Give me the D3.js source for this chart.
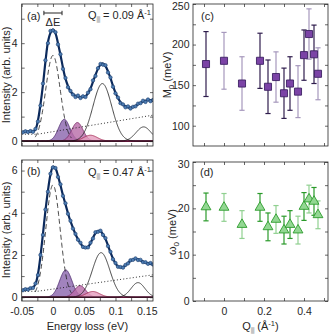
<!DOCTYPE html>
<html>
<head>
<meta charset="utf-8">
<script src="https://cdn.jsdelivr.net/npm/d3@7"></script>
<style>
  body { margin: 0; background: #fff; }
  svg { display: block; font-family: "Liberation Sans", Arial, sans-serif; }
  .tick text { font-size: 10.5px; fill: #262626; font-family: "Liberation Sans", Arial, sans-serif; }
  .tick line { stroke: #262626; stroke-width: 0.7; }
  .domain { display: none; }
  .lbl { font-size: 11px; fill: #262626; }
</style>
</head>
<body>
<div id="chart"></div>
<script>
// energy grid of the measured spectra (eV)
const energy = [-0.048, -0.044, -0.040, -0.036, -0.032, -0.028, -0.024, -0.020, -0.016, -0.012, -0.008, -0.004, 0.000,
  0.004, 0.008, 0.012, 0.016, 0.020, 0.024, 0.028, 0.032, 0.036, 0.040, 0.044, 0.048,
  0.052, 0.056, 0.060, 0.064, 0.068, 0.072, 0.076, 0.080, 0.084, 0.088, 0.092, 0.096,
  0.100, 0.104, 0.108, 0.112, 0.116, 0.120, 0.124, 0.128, 0.132, 0.136, 0.140, 0.144,
  0.148, 0.152, 0.156, 0.160];

// panel (a), Q = 0.09
const dataA = [0.36, 0.40, 0.37, 0.41, 0.38, 0.50, 0.80, 1.45, 2.35, 3.30, 4.00, 4.50, 4.52,
  4.45, 3.95, 3.55, 2.95, 2.58, 2.20, 2.05, 1.90, 1.80, 1.86, 1.76, 1.83,
  1.80, 1.98, 2.12, 2.48, 2.66, 2.98, 3.15, 3.12, 3.10, 2.80, 2.60, 2.22,
  1.95, 1.78, 1.55, 1.50, 1.38, 1.42, 1.33, 1.40, 1.42, 1.53, 1.55, 1.65,
  1.60, 1.70, 1.63, 1.68];
const fitA = [0.38, 0.38, 0.38, 0.39, 0.40, 0.48, 0.85, 1.50, 2.30, 3.25, 4.05, 4.42, 4.55,
  4.40, 4.00, 3.52, 3.00, 2.55, 2.25, 2.03, 1.92, 1.85, 1.82, 1.80, 1.80,
  1.83, 1.95, 2.15, 2.42, 2.70, 2.95, 3.12, 3.17, 3.06, 2.85, 2.57, 2.26,
  1.98, 1.76, 1.59, 1.48, 1.42, 1.38, 1.37, 1.39, 1.44, 1.50, 1.56, 1.62,
  1.65, 1.67, 1.67, 1.67];

// panel (b), Q = 0.47
const dataB = [0.33, 0.38, 0.36, 0.43, 0.44, 0.65, 1.05, 2.00, 2.95, 4.15, 5.00, 5.85, 6.15,
  6.12, 5.70, 5.35, 4.80, 4.45, 3.95, 3.62, 3.25, 3.00, 2.72, 2.58, 2.38,
  2.35, 2.36, 2.58, 2.78, 3.08, 3.10, 3.15, 2.95, 2.80, 2.42, 2.15, 1.80,
  1.62, 1.44, 1.43, 1.40, 1.53, 1.60, 1.75, 1.77, 1.84, 1.76, 1.77, 1.66,
  1.66, 1.58, 1.62, 1.55];
const fitB = [0.35, 0.36, 0.38, 0.41, 0.46, 0.62, 1.10, 1.95, 3.00, 4.10, 5.05, 5.80, 6.18,
  6.10, 5.75, 5.30, 4.83, 4.40, 3.98, 3.60, 3.28, 2.98, 2.75, 2.55, 2.40,
  2.33, 2.38, 2.55, 2.82, 3.03, 3.13, 3.12, 2.98, 2.76, 2.45, 2.12, 1.83,
  1.60, 1.46, 1.41, 1.43, 1.51, 1.62, 1.72, 1.79, 1.81, 1.79, 1.74, 1.69,
  1.64, 1.61, 1.58, 1.56];

// fitted components: [center (eV), height, gaussian width (eV)]
const elasticA = [0, 3.5, 0.0115];
const elasticB = [0, 5.32, 0.0115];
const filledPeaksA = [[0.018, 0.89, 0.009], [0.039, 0.76, 0.009], [0.060, 0.24, 0.011]];
const filledPeaksB = [[0.0205, 1.29, 0.0098], [0.0434, 0.55, 0.009], [0.0638, 0.27, 0.011]];
const linePeaksA = [[0.079, 2.35, 0.015], [0.145, 0.58, 0.012]];
const linePeaksB = [[0.077, 2.11, 0.014], [0.136, 0.69, 0.011]];
const backgroundE = [-0.05, -0.025, 0.16];
const backgroundA = [0.28, 0.28, 1.06];
const backgroundB = [0.28, 0.28, 1.06];
const resolution = 0.029;

// panels (c), (d)
const qPar = [-0.09, 0, 0.09, 0.18, 0.22, 0.26, 0.30, 0.33, 0.37, 0.40, 0.425, 0.45, 0.47];
const m0 = [176, 180, 152, 180, 148, 160, 140, 152, 142, 187, 213, 188, 164];
const m0Err = [40, 35, 33, 34, 33, 31, 31, 33, 32, 31, 31, 36, 32];
const omega0 = [20.3, 20.2, 16.5, 20.2, 16.0, 17.6, 15.3, 16.5, 15.3, 20.4, 22.0, 21.5, 18.6];
const omega0Err = [3, 3, 3, 3, 3, 3, 3, 3, 3, 3, 3, 3, 3];
const darkBar = [1, 0, 0, 1, 1, 0, 1, 1, 0, 1, 0, 1, 0];

const peakFill = ['#8a64ad', '#b86aa8', '#e39bbd'];
const peakStroke = ['#4e2a6e', '#7b2a66', '#a3264f'];

const svg = d3.select('#chart').append('svg').attr('width', 329).attr('height', 336);

const fmt = v => Math.abs(v) < 1e-9 ? '0' : String(+v.toFixed(3));
const pick = list => v => list.some(l => Math.abs(l - v) < 1e-9) ? fmt(v) : '';

const drawAxes = (x, y, xt, xl, yt, yl, yPad) => {
  const [x0, x1] = x.range();
  const [y0, y1] = y.range();
  const g = svg.append('g');
  g.append('g').attr('transform', `translate(0,${y0})`)
    .call(d3.axisBottom(x).tickValues(xt).tickSize(-3).tickPadding(6.5).tickFormat(pick(xl)));
  g.append('g').attr('transform', `translate(0,${y1})`)
    .call(d3.axisTop(x).tickValues(xt).tickSize(-3).tickFormat(() => ''));
  const left = g.append('g').attr('transform', `translate(${x0},0)`)
    .call(d3.axisLeft(y).tickValues(yt).tickSize(-3).tickPadding(yPad).tickFormat(pick(yl)));
  g.append('g').attr('transform', `translate(${x1},0)`)
    .call(d3.axisRight(y).tickValues(yt).tickSize(-3).tickFormat(() => ''));
  g.append('rect').attr('x', x0).attr('y', y1).attr('width', x1 - x0).attr('height', y0 - y1)
    .attr('fill', 'none').attr('stroke', '#262626').attr('stroke-width', 0.8);
  // keep a label sitting on the top edge inside the picture
  left.selectAll('.tick text').filter(function () { return y(d3.select(this.parentNode).datum()) < y1 + 3; })
    .attr('dy', '0.5em');
};

const gauss = ([c, h, w]) => e => h * Math.exp(-((e - c) ** 2) / (2 * w * w));
const fine = d3.range(-0.05, 0.1602, 0.0005);

const eTicks = d3.range(-0.05, 0.1501, 0.025);
const eLabels = [-0.05, 0, 0.05, 0.1, 0.15];

const drawSpectrum = (top, bottom, yMax, yMin, data, fit, elastic, filled, lines, bg, showX) => {
  const x = d3.scaleLinear().domain([-0.05, 0.16]).range([21.7, 153]);
  const y = d3.scaleLinear().domain([yMin, yMax]).range([bottom, top]);
  const clipId = 'clip' + top;
  svg.append('clipPath').attr('id', clipId).append('rect')
    .attr('x', 21.7).attr('y', top).attr('width', 153 - 21.7).attr('height', bottom - top);
  const g = svg.append('g').attr('clip-path', `url(#${clipId})`);

  filled.forEach((p, i) => {
    const f = gauss(p);
    g.append('path').datum(fine)
      .attr('d', d3.area().x(e => x(e)).y0(y(0)).y1(e => y(f(e))))
      .attr('fill', peakFill[i]).attr('fill-opacity', 0.8);
    g.append('path').datum(fine)
      .attr('d', d3.line().x(e => x(e)).y(e => y(f(e))))
      .attr('fill', 'none').attr('stroke', peakStroke[i]).attr('stroke-width', 0.8);
  });
  g.append('line').attr('x1', x(-0.05)).attr('x2', x(0.16)).attr('y1', y(0)).attr('y2', y(0))
    .attr('stroke', '#5e1436').attr('stroke-width', 1.6);

  lines.forEach(p => {
    const f = gauss(p);
    g.append('path').datum(fine)
      .attr('d', d3.line().x(e => x(e)).y(e => y(f(e))))
      .attr('fill', 'none').attr('stroke', '#1a1a1a').attr('stroke-width', 0.8);
  });

  g.append('path').datum(backgroundE.map((e, i) => [e, bg[i]]))
    .attr('d', d3.line().x(d => x(d[0])).y(d => y(d[1])))
    .attr('fill', 'none').attr('stroke', '#1a1a1a').attr('stroke-width', 0.9)
    .attr('stroke-dasharray', '1,2.2');

  const fe = gauss(elastic);
  g.append('path').datum(fine.filter(e => e > -0.029 && e < 0.03))
    .attr('d', d3.line().x(e => x(e)).y(e => y(fe(e))))
    .attr('fill', 'none').attr('stroke', '#1a1a1a').attr('stroke-width', 0.8)
    .attr('stroke-dasharray', '5,3');

  g.append('path').datum(energy.map((e, i) => [e, fit[i]]))
    .attr('d', d3.line().x(d => x(d[0])).y(d => y(d[1])).curve(d3.curveCatmullRom))
    .attr('fill', 'none').attr('stroke', '#0c2a5c').attr('stroke-width', 2.2);

  g.selectAll('.pt').data(energy.map((e, i) => [e, data[i]])).enter().append('circle')
    .attr('cx', d => x(d[0])).attr('cy', d => y(d[1])).attr('r', 1.7)
    .attr('fill', '#4d7db3').attr('stroke', '#1c3c6c').attr('stroke-width', 0.6);

  drawAxes(x, y, eTicks, showX ? eLabels : [], d3.range(0, Math.floor(yMax) + 1, 1), d3.range(0, yMax, 2), 4);
  return {x, y};
};

const a = drawSpectrum(4, 146, 5.6, -0.2, dataA, fitA, elasticA, filledPeaksA, linePeaksA, backgroundA, false);
const b = drawSpectrum(160, 301, 6.5, -0.18, dataB, fitB, elasticB, filledPeaksB, linePeaksB, backgroundB, true);

// resolution bar
const barY = 13;
const rx0 = a.x(-resolution / 2), rx1 = a.x(resolution / 2);
svg.append('line').attr('x1', rx0).attr('x2', rx1).attr('y1', barY).attr('y2', barY).attr('stroke', '#262626').attr('stroke-width', 1);
[rx0, rx1].forEach(v => svg.append('line').attr('x1', v).attr('x2', v).attr('y1', barY - 2.2).attr('y2', barY + 2.2).attr('stroke', '#262626').attr('stroke-width', 1));
svg.append('text').attr('class', 'lbl').attr('x', (rx0 + rx1) / 2).attr('y', 25.5).attr('text-anchor', 'middle').text('ΔE');

const qText = (yPos, val) => {
  const t = svg.append('text').attr('class', 'lbl').attr('x', 151).attr('y', yPos).attr('text-anchor', 'end');
  t.append('tspan').text('Q');
  t.append('tspan').attr('dy', 3).attr('font-size', 8).attr('fill', '#c4c4c4').attr('stroke', '#c4c4c4').attr('stroke-width', 1.4).text('‖');
  t.append('tspan').attr('dy', -3).text(` = ${val} Å`);
  t.append('tspan').attr('dy', -4).attr('font-size', 7.5).text('-1');
};
qText(19.3, '0.09');
qText(175.5, '0.47');

svg.append('text').attr('class', 'lbl').attr('x', 27).attr('y', 19.5).text('(a)');
svg.append('text').attr('class', 'lbl').attr('x', 27).attr('y', 175).text('(b)');

[75, 230].forEach(cy => svg.append('text').attr('class', 'lbl')
  .attr('transform', `translate(10,${cy}) rotate(-90)`).attr('text-anchor', 'middle').text('Intensity (arb. units)'));
svg.append('text').attr('class', 'lbl').attr('x', 87.4).attr('y', 330).attr('text-anchor', 'middle').text('Energy loss (eV)');

// right column
const xq = d3.scaleLinear().domain([-0.155, 0.52]).range([193, 328]);
const qTicks = d3.range(-0.1, 0.501, 0.1);
const qLabels = [0, 0.2, 0.4];

const drawParam = (top, bottom, dom, yt, yl, vals, errs, symbol, fill, stroke, dark, light, showX) => {
  const y = d3.scaleLinear().domain(dom).range([bottom, top]);
  const g = svg.append('g');
  qPar.forEach((q, i) => {
    const col = darkBar[i] ? dark : light;
    const lo = y(vals[i] - errs[i]), hi = y(vals[i] + errs[i]), cx = xq(q);
    g.append('line').attr('x1', cx).attr('x2', cx).attr('y1', lo).attr('y2', hi).attr('stroke', col).attr('stroke-width', 1.2);
    [lo, hi].forEach(v => g.append('line').attr('x1', cx - 2.6).attr('x2', cx + 2.6).attr('y1', v).attr('y2', v).attr('stroke', col).attr('stroke-width', 1.2));
  });
  g.selectAll('.m').data(qPar.map((q, i) => [q, vals[i]])).enter().append('path')
    .attr('transform', d => `translate(${xq(d[0])},${y(d[1])})`)
    .attr('d', symbol)
    .attr('fill', fill).attr('stroke', stroke).attr('stroke-width', 0.9);
  drawAxes(xq, y, qTicks, showX ? qLabels : [], yt, yl, 3.5);
  return y;
};

drawParam(4, 146, [75, 250], d3.range(100, 251, 25), [100, 150, 200, 250], m0, m0Err,
  d3.symbol(d3.symbolSquare, 50)(), '#7b43a6', '#3d2163', '#2f1d4d', '#a698bd', false);
drawParam(162, 301, [0, 30], d3.range(0, 31, 5), [0, 10, 20, 30], omega0, omega0Err,
  d3.symbol(d3.symbolTriangle, 42)(), '#93d793', '#2c9c2c', '#2a9a2a', '#90d090', true);

svg.append('text').attr('class', 'lbl').attr('x', 201).attr('y', 19.5).text('(c)');
svg.append('text').attr('class', 'lbl').attr('x', 200).attr('y', 176).text('(d)');

const m0Label = svg.append('text').attr('class', 'lbl').attr('transform', 'translate(170.5,75) rotate(-90)').attr('text-anchor', 'middle');
m0Label.append('tspan').text('M');
m0Label.append('tspan').attr('dy', 3).attr('font-size', 8).text('0');
m0Label.append('tspan').attr('dy', -3).text(' (meV)');

const wLabel = svg.append('text').attr('class', 'lbl').attr('transform', 'translate(175.5,232) rotate(-90)').attr('text-anchor', 'middle');
wLabel.append('tspan').text('ω');
wLabel.append('tspan').attr('dy', 3).attr('font-size', 8).text('0');
wLabel.append('tspan').attr('dy', -3).text(' (meV)');

const qLabel = svg.append('text').attr('class', 'lbl').attr('x', 260.5).attr('y', 330).attr('text-anchor', 'middle');
qLabel.append('tspan').text('Q');
qLabel.append('tspan').attr('dy', 3).attr('font-size', 8).attr('fill', '#c4c4c4').attr('stroke', '#c4c4c4').attr('stroke-width', 1.4).text('‖');
qLabel.append('tspan').attr('dy', -3).text(' (Å');
qLabel.append('tspan').attr('dy', -4).attr('font-size', 7.5).text('-1');
qLabel.append('tspan').attr('dy', 4).text(')');
</script>
</body>
</html>
